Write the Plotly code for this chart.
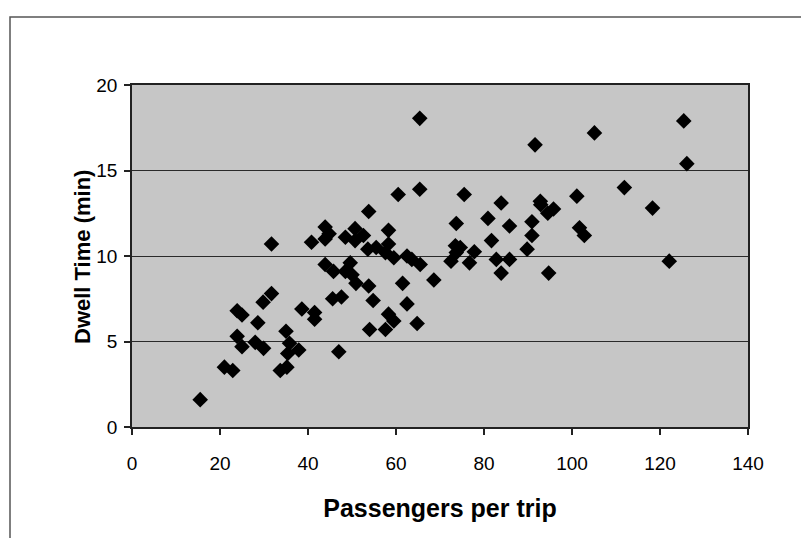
import plotly.graph_objects as go

passengers = [15.5, 21.0, 22.9, 23.9, 23.9, 25.0, 25.0, 28.0, 28.6, 29.8, 29.9, 31.7, 31.7,
              33.7, 35.2, 35.0, 35.8, 35.4, 37.9, 38.6, 40.8, 41.5, 41.5, 43.9, 44.8, 43.9,
              43.9, 45.8, 45.6, 47.6, 47.0, 48.5, 48.5, 49.6, 50.0, 50.7, 52.6, 50.7, 50.9,
              53.8, 53.8, 53.6, 55.5, 54.8, 54.0, 57.6, 57.6, 58.3, 58.3, 58.3, 59.5, 59.5,
              60.5, 61.5, 62.5, 62.5, 63.6, 64.8, 65.5, 65.4, 65.4, 68.6, 72.5, 73.5, 74.6,
              73.7, 73.7, 75.5, 76.7, 77.8, 80.9, 81.7, 82.8, 83.9, 83.9, 85.8, 85.8, 89.8,
              90.9, 90.9, 91.6, 92.8, 92.9, 94.7, 94.5, 95.8, 101.1, 101.7, 102.8, 105.1,
              111.9, 118.3, 122.1, 125.4, 126.1]
dwell_min = [1.6, 3.5, 3.3, 5.3, 6.8, 6.55, 4.7, 4.95, 6.1, 7.3, 4.6, 7.8, 10.7,
             3.3, 3.5, 5.6, 4.9, 4.3, 4.5, 6.9, 10.8, 6.7, 6.3, 11.7, 11.3, 11.0,
             9.5, 9.1, 7.5, 7.6, 4.4, 11.1, 9.1, 9.6, 8.9, 11.6, 11.2, 10.9, 8.4,
             8.25, 12.6, 10.4, 10.5, 7.4, 5.7, 5.7, 10.2, 11.5, 10.7, 6.6, 6.2, 9.9,
             13.6, 8.4, 10.0, 7.2, 9.8, 6.05, 9.5, 13.9, 18.05, 8.6, 9.7, 10.6, 10.5,
             10.2, 11.9, 13.6, 9.6, 10.25, 12.2, 10.9, 9.8, 13.1, 9.0, 11.75, 9.8, 10.4,
             12.0, 11.2, 16.5, 13.2, 13.0, 9.0, 12.5, 12.75, 13.5, 11.65, 11.2, 17.2,
             14.0, 12.8, 9.7, 17.9, 15.4]

x_ticks = [0, 20, 40, 60, 80, 100, 120, 140]
y_ticks = [0, 5, 10, 15, 20]
x_title = "Passengers per trip"
y_title = "Dwell Time (min)"

fig = go.Figure()
fig.add_trace(go.Scatter(
    x=passengers, y=dwell_min, mode="markers",
    marker=dict(symbol="diamond", size=12, color="#000000", line=dict(width=0)),
    showlegend=False, cliponaxis=False,
))

tick_font = dict(family="Liberation Sans Narrow, Arial Narrow, Liberation Sans, Arial", size=19, color="#000")

fig.update_layout(
    width=801, height=538,
    margin=dict(l=132, r=53, t=85, b=111),
    paper_bgcolor="#ffffff",
    plot_bgcolor="#c6c6c6",
    xaxis=dict(
        range=[0, 140], tickvals=x_ticks, ticktext=[str(v) for v in x_ticks],
        showgrid=False, zeroline=False, showline=True, linecolor="#222", linewidth=1.5,
        mirror=True, ticks="outside", ticklen=6, tickcolor="#222", tickwidth=1.5,
        tickfont=tick_font, ticklabelstandoff=12,
        title=dict(text="<b>" + x_title + "</b>",
                   font=dict(family="Liberation Sans, Arial", size=25, color="#000"), standoff=27),
    ),
    yaxis=dict(
        range=[0, 20], tickvals=y_ticks, ticktext=[str(v) for v in y_ticks],
        showgrid=True, gridcolor="#2a2a2a", gridwidth=1.2, zeroline=False,
        showline=True, linecolor="#222", linewidth=1.5, mirror=True,
        ticks="outside", ticklen=6, tickcolor="#222", tickwidth=1.5,
        tickfont=tick_font, ticklabelstandoff=3,
    ),
    annotations=[dict(
        text="<b>" + y_title + "</b>", textangle=-90, showarrow=False,
        xref="paper", yref="paper", x=(82 - 132) / 616, y=(427 - 257) / 342,
        xanchor="center", yanchor="middle",
        font=dict(family="Liberation Sans, Arial", size=22, color="#000"),
    )],
    shapes=[dict(
        type="rect", xref="paper", yref="paper",
        x0=(10 - 132) / 616, x1=(805 - 132) / 616,
        y0=(427 - 545) / 342, y1=(427 - 17) / 342,
        line=dict(color="#555", width=1.5), fillcolor="rgba(0,0,0,0)", layer="below",
    )],
)

fig.write_html("out.html")
